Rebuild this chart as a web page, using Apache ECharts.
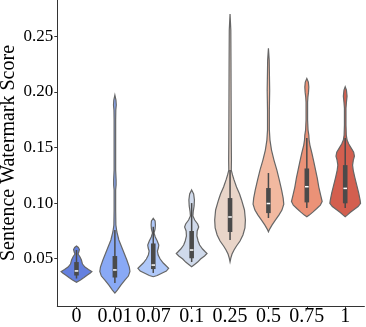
<!DOCTYPE html>
<html>
<head>
<meta charset="utf-8">
<script src="https://cdn.jsdelivr.net/npm/echarts@6/dist/echarts.min.js"></script>
<style>
html,body{margin:0;padding:0;background:#fff;}
#chart{width:366px;height:327px;}
</style>
</head>
<body>
<div id="chart"></div>
<script>
const categories = ['0', '0.01', '0.07', '0.1', '0.25', '0.5', '0.75', '1'];
const yTicks = [0.05, 0.10, 0.15, 0.20, 0.25];

// Violin outline: score values along each violin and relative half-width (density) at each
const profileValues = [
  [0.0614,0.0601,0.0583,0.0560,0.0542,0.0515,0.0488,0.0452,0.0425,0.0403,0.0385,0.0372,0.0354,0.0331,0.0309,0.0288],
  [0.1971,0.1926,0.1881,0.1836,0.1748,0.1478,0.1298,0.1208,0.1163,0.1118,0.0938,0.0803,0.0740,0.0668,0.0578,0.0488,0.0425,0.0385,0.0344,0.0308,0.0263,0.0218,0.0191],
  [0.0863,0.0839,0.0803,0.0767,0.0731,0.0695,0.0659,0.0623,0.0596,0.0569,0.0533,0.0497,0.0461,0.0434,0.0414,0.0389,0.0367,0.0349,0.0338],
  [0.1118,0.1082,0.1028,0.0974,0.0920,0.0884,0.0848,0.0812,0.0785,0.0749,0.0704,0.0659,0.0623,0.0587,0.0560,0.0547,0.0524,0.0497,0.0470,0.0448,0.0428],
  [0.2700,0.2556,0.2286,0.1926,0.1567,0.1388,0.1297,0.1253,0.1208,0.1145,0.1082,0.1028,0.0938,0.0848,0.0776,0.0713,0.0659,0.0614,0.0578,0.0542,0.0506,0.0473],
  [0.2390,0.2285,0.2015,0.1835,0.1656,0.1566,0.1476,0.1386,0.1296,0.1207,0.1117,0.1045,0.0991,0.0937,0.0892,0.0847,0.0802,0.0766,0.0742],
  [0.2120,0.2087,0.2042,0.1997,0.1952,0.1907,0.1746,0.1656,0.1611,0.1566,0.1521,0.1449,0.1368,0.1297,0.1225,0.1144,0.1072,0.1014,0.0982,0.0951,0.0919,0.0892,0.0877],
  [0.2045,0.2015,0.1961,0.1907,0.1853,0.1701,0.1611,0.1566,0.1530,0.1494,0.1458,0.1422,0.1386,0.1341,0.1297,0.1234,0.1162,0.1090,0.1027,0.0998,0.0969,0.0942,0.0915,0.0892,0.0877]
];
const profileWidths = [
  [0,0.12,0.19,0.15,0.10,0.23,0.32,0.39,0.55,0.78,1.0,0.90,0.71,0.49,0.26,0],
  [0,0.07,0.09,0.06,0.05,0.05,0.05,0.08,0.08,0.05,0.05,0.065,0.13,0.26,0.52,0.78,0.94,0.98,0.88,0.65,0.39,0.16,0],
  [0,0.12,0.14,0.12,0.05,0.13,0.26,0.36,0.33,0.27,0.32,0.45,0.65,0.85,1.0,0.85,0.52,0.26,0],
  [0,0.13,0.18,0.16,0.10,0.08,0.20,0.39,0.46,0.36,0.34,0.42,0.52,0.71,0.90,1.0,0.84,0.58,0.39,0.19,0],
  [0,0.05,0.06,0.07,0.08,0.09,0.08,0.16,0.26,0.42,0.62,0.75,0.94,1.0,0.97,0.84,0.65,0.42,0.26,0.13,0.05,0],
  [0,0.05,0.08,0.06,0.06,0.10,0.20,0.36,0.55,0.71,0.86,0.96,1.0,0.88,0.68,0.45,0.23,0.08,0],
  [0,0.10,0.13,0.11,0.07,0.05,0.05,0.08,0.13,0.15,0.20,0.33,0.46,0.57,0.68,0.78,0.90,1.0,0.88,0.65,0.39,0.16,0],
  [0,0.08,0.12,0.08,0.05,0.05,0.07,0.12,0.23,0.39,0.55,0.60,0.53,0.48,0.52,0.62,0.75,0.88,0.97,1.0,0.84,0.58,0.32,0.13,0]
];

// Inner box statistics
const q1 = [0.0349, 0.0331, 0.0407, 0.0504, 0.0740, 0.0910, 0.1006, 0.0998];
const medians = [0.0390, 0.0399, 0.0443, 0.0578, 0.0875, 0.0996, 0.1147, 0.1132];
const q3 = [0.0470, 0.0524, 0.0637, 0.0749, 0.1045, 0.1135, 0.1311, 0.1341];
const whiskerLow = [0.0322, 0.0282, 0.0372, 0.0470, 0.0668, 0.0866, 0.0955, 0.0955];
const whiskerHigh = [0.0578, 0.0758, 0.0787, 0.1000, 0.1297, 0.1270, 0.1584, 0.1584];

const fillColors = ['#6480df', '#89a9f5', '#afc8f9', '#d0daeb', '#e9d5c9', '#f2b9a0', '#eb9277', '#d35f4f'];

const chart = echarts.init(document.getElementById('chart'), null, {renderer: 'canvas'});
const FONT = 'Liberation Serif';

function renderViolin(params, api) {
  const i = params.dataIndex;
  const bw = api.size([1, 0])[0];
  const maxHW = bw * 0.4;
  const cx = api.coord([i, medians[i]])[0];
  const vals = profileValues[i], ws = profileWidths[i];
  const right = vals.map((v, k) => [cx + ws[k] * maxHW, api.coord([i, v])[1]]);
  const left = vals.map((v, k) => [cx - ws[k] * maxHW, api.coord([i, v])[1]]).reverse();
  const pts = right.concat(left);
  const yQ1 = api.coord([i, q1[i]])[1];
  const yQ3 = api.coord([i, q3[i]])[1];
  const yMed = api.coord([i, medians[i]])[1];
  const yWL = api.coord([i, whiskerLow[i]])[1];
  const yWH = api.coord([i, whiskerHigh[i]])[1];
  return {
    type: 'group',
    children: [
      {type: 'polygon', shape: {points: pts}, style: {fill: fillColors[i], stroke: '#666666', lineWidth: 1.2}},
      {type: 'line', shape: {x1: cx, y1: yWH, x2: cx, y2: yWL}, style: {stroke: '#4a4a4a', lineWidth: 1.5}},
      {type: 'rect', shape: {x: cx - 2.3, y: yQ3, width: 4.6, height: yQ1 - yQ3}, style: {fill: '#4a4a4a'}},
      {type: 'line', shape: {x1: cx - 1.8, y1: yMed, x2: cx + 1.8, y2: yMed}, style: {stroke: '#ffffff', lineWidth: 1.5}}
    ]
  };
}

chart.setOption({
  animation: false,
  backgroundColor: '#ffffff',
  grid: {left: 57.3, right: 1.6, top: 0, bottom: 21, containLabel: false, outerBoundsMode: 'none'},
  xAxis: {
    type: 'category',
    data: categories,
    boundaryGap: true,
    axisLine: {show: true, lineStyle: {color: '#333333', width: 1}},
    axisTick: {show: true, alignWithLabel: true, length: 3, lineStyle: {color: '#333333'}},
    axisLabel: {color: '#000000', fontFamily: FONT, fontSize: 20, margin: 1, interval: 0},
    splitLine: {show: false}
  },
  yAxis: {
    type: 'value',
    min: 0.0075,
    max: 0.2825,
    name: 'Sentence Watermark Score',
    nameLocation: 'middle',
    nameGap: 39,
    nameMoveOverlap: false,
    nameTextStyle: {color: '#000000', fontFamily: FONT, fontSize: 20},
    axisLine: {show: true, lineStyle: {color: '#333333', width: 1}},
    axisTick: {show: true, length: 3, customValues: yTicks, lineStyle: {color: '#333333'}},
    axisLabel: {color: '#000000', fontFamily: FONT, fontSize: 17, margin: 4, customValues: yTicks,
      formatter: v => v.toFixed(2)},
    splitLine: {show: false}
  },
  series: [{
    type: 'custom',
    renderItem: renderViolin,
    data: categories.map((c, i) => [i, medians[i]]),
    encode: {x: 0, y: 1},
    clip: false
  }]
});
</script>
</body>
</html>
